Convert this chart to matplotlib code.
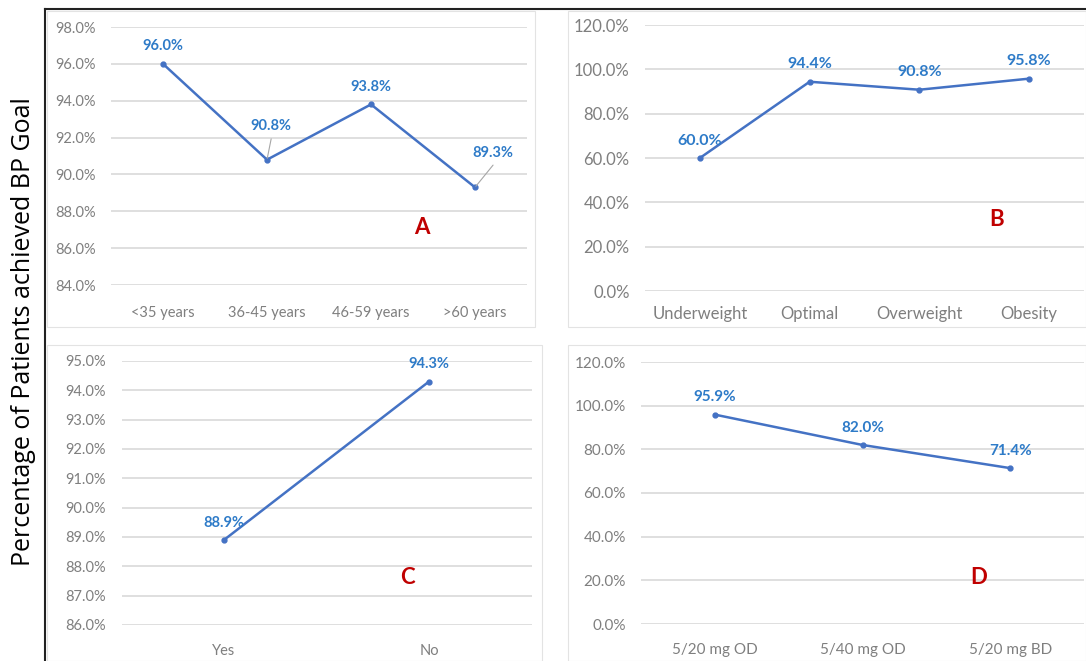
import matplotlib
matplotlib.use('Agg')
import matplotlib.pyplot as plt
from matplotlib.patches import Rectangle
from matplotlib.lines import Line2D
from matplotlib.ticker import FuncFormatter, MultipleLocator

# data
age_groups = ['<35 years', '36-45 years', '46-59 years', '>60 years']
age_pct = [96.0, 90.8, 93.8, 89.3]

bmi_groups = ['Underweight', 'Optimal', 'Overweight', 'Obesity']
bmi_pct = [60.0, 94.4, 90.8, 95.8]

c_groups = ['Yes', 'No']
c_pct = [88.9, 94.3]

dose_groups = ['5/20 mg OD', '5/40 mg OD', '5/20 mg BD']
dose_pct = [95.9, 82.0, 71.4]

W, H = 1086, 661
fig = plt.figure(figsize=(W / 100, H / 100), dpi=100)
fig.patch.set_facecolor('white')

LINE = '#4472C4'
LAB = '#2E7BC8'
TICK = '#7F7F7F'
GRID = '#D9D9D9'
RED = '#C00000'
FONT = ['Lato', 'DejaVu Sans']


def px_axes(x0, y0, x1, y1):
    # pixel box (top-left origin) -> figure axes
    return fig.add_axes([x0 / W, 1 - y1 / H, (x1 - x0) / W, (y1 - y0) / H])


def px_box(x0, y0, x1, y1):
    fig.add_artist(Rectangle((x0 / W, 1 - y1 / H), (x1 - x0) / W, (y1 - y0) / H,
                             transform=fig.transFigure, fill=False,
                             edgecolor='#E3E3E3', lw=0.8))


def panel(box, ax_box, cats, vals, ylim, step, letter, letter_xy,
          tsize=10.5, lsize=10.5, xpad=14, offsets=None):
    px_box(*box)
    ax = px_axes(*ax_box)
    x = list(range(len(cats)))
    ax.plot(x, vals, color=LINE, lw=1.8, marker='o', ms=3.5, zorder=3)
    ax.set_xlim(-0.5, len(cats) - 0.5)
    ax.set_ylim(*ylim)
    ax.yaxis.set_major_locator(MultipleLocator(step))
    ax.yaxis.set_major_formatter(FuncFormatter(lambda v, p: '{:.1f}%'.format(v)))
    ax.set_xticks(x)
    ax.set_xticklabels(cats)
    for s in ax.spines.values():
        s.set_visible(False)
    ax.grid(axis='y', color=GRID, lw=1.2)
    ax.set_axisbelow(True)
    ax.tick_params(length=0, colors=TICK, labelsize=tsize)
    ax.tick_params(axis='y', pad=11)
    ax.tick_params(axis='x', pad=xpad)
    for t in ax.get_xticklabels() + ax.get_yticklabels():
        t.set_family(FONT)
    for i, v in enumerate(vals):
        dx, dy = (0, 12.5)
        if offsets and i in offsets:
            dx, dy = offsets[i]
            ax.annotate('', xy=(i, v), xytext=(dx, dy - 9), textcoords='offset points',
                        arrowprops=dict(arrowstyle='-', color='#A6A6A6', lw=0.8,
                                        shrinkA=0, shrinkB=1))
        ax.annotate('{:.1f}%'.format(v), (i, v), xytext=(dx, dy), textcoords='offset points',
                    ha='center', va='center', color=LAB, fontsize=lsize,
                    fontweight='bold', family=FONT, zorder=4)
    fig.text(letter_xy[0] / W, 1 - letter_xy[1] / H, letter, color=RED,
             fontsize=16, fontweight='bold', family=FONT, ha='center', va='center')
    return ax


panel((47, 11, 535, 327), (111, 27, 527, 285), age_groups, age_pct,
      (84, 98), 2, 'A', (422, 228), xpad=15, offsets={1: (3, 24), 3: (13, 25)})
panel((568, 11, 1086, 327), (645, 25, 1084, 291), bmi_groups, bmi_pct,
      (0, 120), 20, 'B', (997, 219), tsize=12, lsize=11.5, xpad=11)
panel((47, 345, 542, 661), (121.5, 361, 531.5, 625), c_groups, c_pct,
      (86, 95), 1, 'C', (407, 578), xpad=14)
panel((568, 345, 1086, 661), (641, 362, 1084, 624), dose_groups, dose_pct,
      (0, 120), 20, 'D', (979, 577), tsize=11, lsize=11, xpad=14)

# outer black frame lines
fig.add_artist(Line2D([45 / W, 45 / W], [0, 1 - 9 / H], transform=fig.transFigure,
                      color='#222222', lw=1.5))
fig.add_artist(Line2D([45 / W, 1], [1 - 9 / H, 1 - 9 / H], transform=fig.transFigure,
                      color='#222222', lw=1.5))

fig.text(24 / W, 1 - 332 / H, 'Percentage of Patients achieved BP Goal', rotation=90,
         ha='center', va='center', fontsize=18, family=['Open Sans', 'DejaVu Sans'])

fig.savefig('out.png', dpi=100, facecolor='white')
